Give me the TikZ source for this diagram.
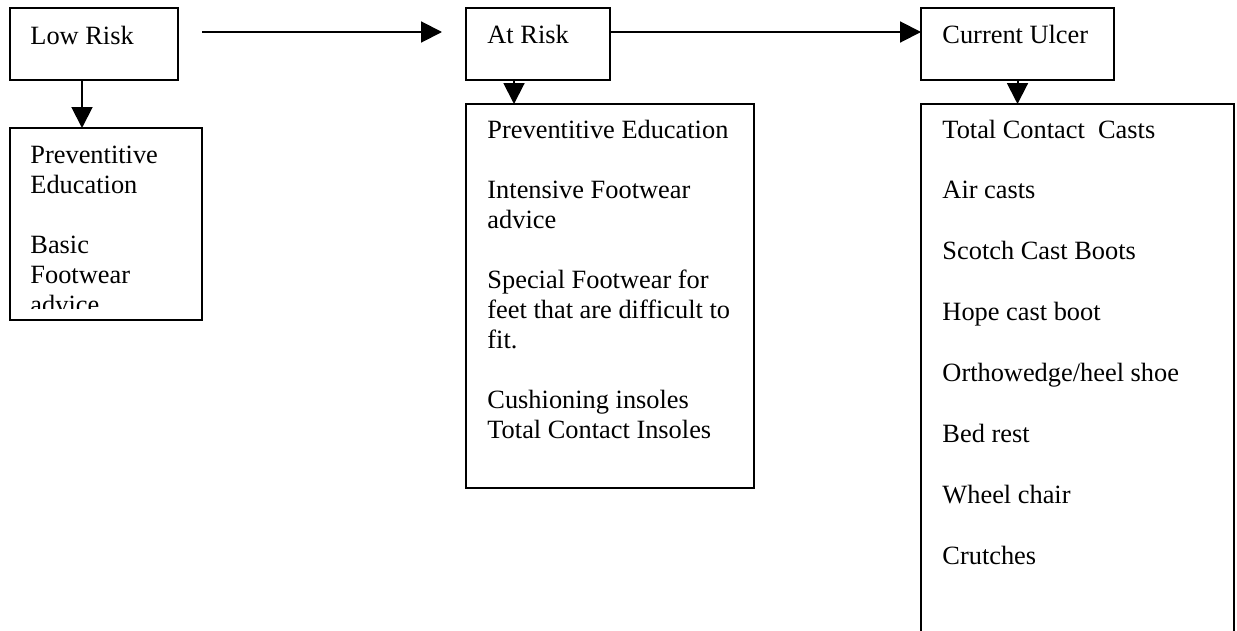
\documentclass[tikz,border=0pt]{standalone}
\usepackage{fontspec}
\setmainfont{Liberation Serif}
\usetikzlibrary{arrows.meta,positioning}
\newdimen\unitpx
\unitpx=0.455pt
\tikzset{
  ftbox/.style={draw, line width=0.9pt, anchor=north west, inner sep=0pt, outer sep=0pt},
  fttext/.style={anchor=base west, inner sep=0pt, font=\fontsize{12pt}{13.65pt}\selectfont},
  ftarr/.style={-{Triangle[length=9.5pt, width=9.5pt]}, line width=0.9pt}
}
\begin{document}
\begin{tikzpicture}[x=1\unitpx, y=-1\unitpx]
\useasboundingbox (0,0) rectangle (1237,630);
% levels of risk
\node[ftbox, minimum width=168*\unitpx, minimum height=72*\unitpx] (low) at (10,8) {};
\node[ftbox, minimum width=144*\unitpx, minimum height=72*\unitpx] (atrisk) at (466,8) {};
\node[ftbox, minimum width=193*\unitpx, minimum height=72*\unitpx] (ulcer) at (921,8) {};
\node[fttext] (lowtxt) at (30,44) {Low Risk};
\node[fttext] (atrisktxt) at (487,43) {At Risk};
\node[fttext] (ulcertxt) at (942,43) {Current Ulcer};
% lists of measures
\node[ftbox, minimum width=192*\unitpx, minimum height=192*\unitpx] (lowlist) at (10,128) {};
\node[ftbox, minimum width=288*\unitpx, minimum height=384*\unitpx] (atlist) at (466,104) {};
\node[ftbox, minimum width=313*\unitpx, minimum height=560*\unitpx] (ulcerlist) at (921,104) {};
\begin{scope}
\clip (10,128) rectangle (202,308);
\node[fttext] (lowlisttxt) at (30,163) {\parbox[t]{120pt}{\raggedright
  Preventitive\\Education\\[13.65pt]Basic\\Footwear\\advice}};
\end{scope}
\node[fttext] (atlisttxt) at (487,138) {\parbox[t]{125pt}{\raggedright
  Preventitive Education\\[13.65pt]Intensive Footwear\\advice\\[13.65pt]%
  Special Footwear for\\feet that are difficult to\\fit.\\[13.65pt]%
  Cushioning insoles\\Total Contact Insoles}};
\node[fttext, font=\fontsize{12pt}{27.75pt}\selectfont] (ulcerlisttxt) at (942,138) {\parbox[t]{130pt}{\raggedright
  Total Contact\ \ Casts\\Air casts\\Scotch Cast Boots\\Hope cast boot\\%
  Orthowedge/heel shoe\\Bed rest\\Wheel chair\\Crutches}};
% connectors
\draw[ftarr] ([shift={(24,-12)}]low.east) -- ([shift={(-24,-12)}]atrisk.west);
\draw[ftarr] ([yshift=12*\unitpx]atrisk.east) -- ([yshift=12*\unitpx]atrisk.east -| ulcer.west);
\draw[ftarr] ([xshift=-12*\unitpx]low.south) -- ([xshift=-12*\unitpx]low.south |- lowlist.north);
\draw[ftarr] ([xshift=-24*\unitpx]atrisk.south) -- ([xshift=-24*\unitpx]atrisk.south |- atlist.north);
\draw[ftarr] (ulcer.south) -- (ulcer.south |- ulcerlist.north);
\end{tikzpicture}
\end{document}
